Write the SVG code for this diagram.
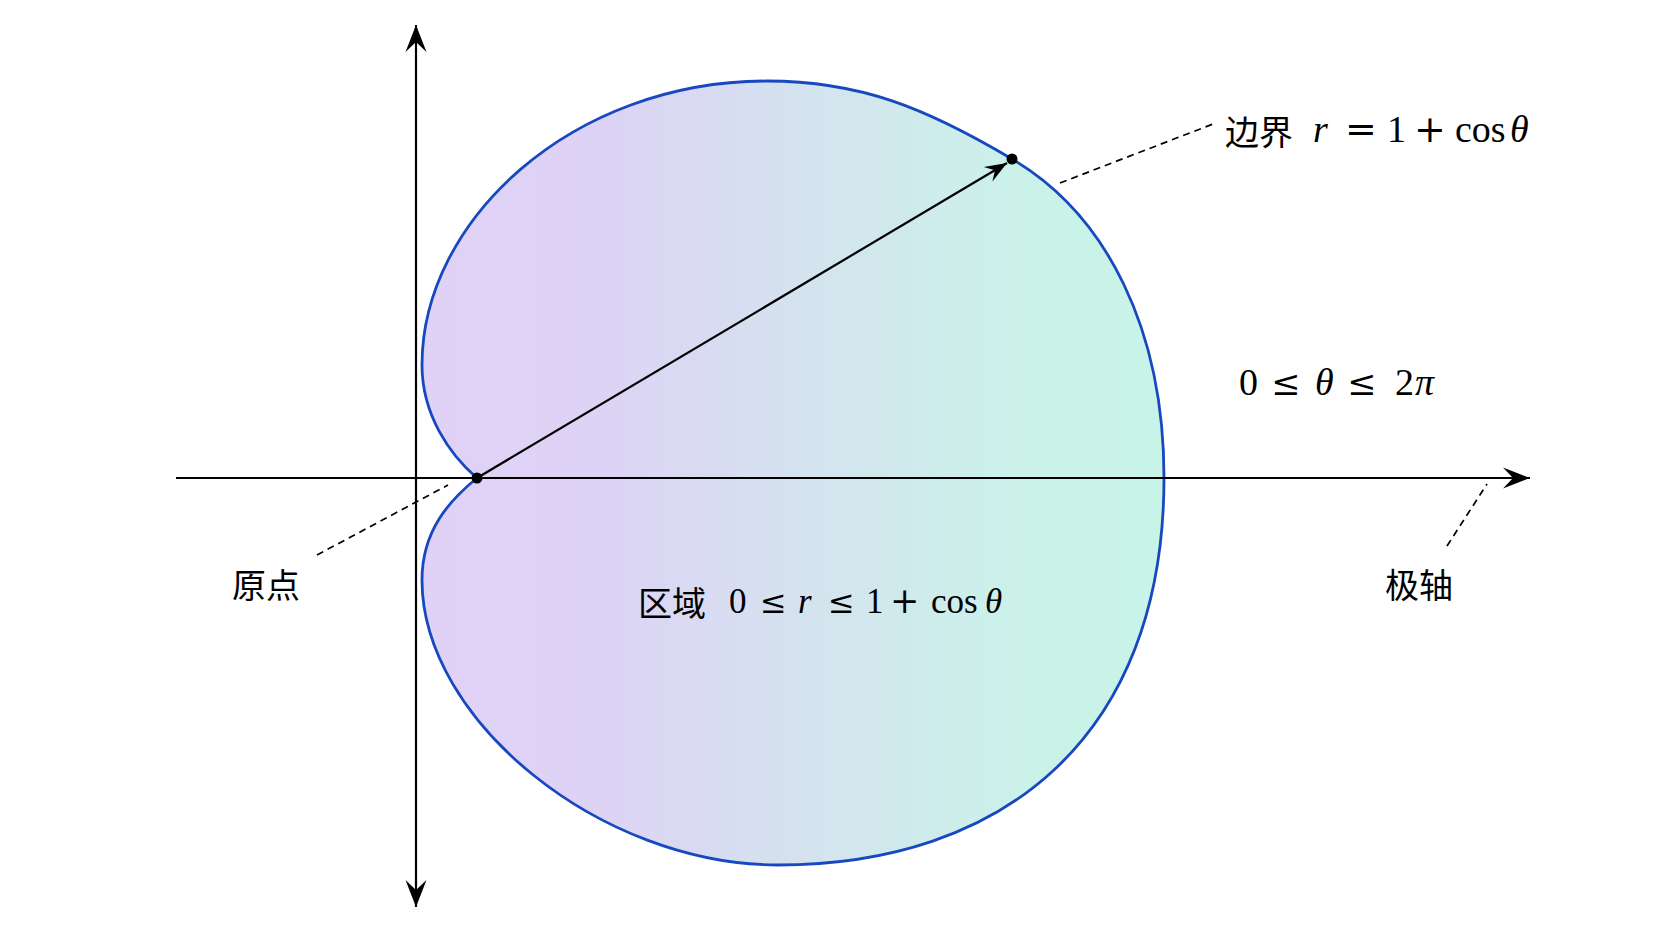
<svg xmlns="http://www.w3.org/2000/svg" width="1672" height="941" viewBox="0 0 1672 941">
  <style>
    .axis { stroke: #000; stroke-width: 2.2; fill: none; }
    .lead { stroke: #000; stroke-width: 1.7; fill: none; stroke-dasharray: 7 5; }
    .cjk { font-family: "Noto Sans CJK SC", "Noto Sans", sans-serif; font-size: 34px; fill: #000; }
    .m { font-family: "Liberation Serif", "DejaVu Serif", serif; font-size: 38px; fill: #000; }
    .op { font-family: "DejaVu Serif", "Liberation Serif", serif; font-size: 38px; }
    .le { font-family: "DejaVu Serif", "Liberation Serif", serif; font-size: 35px; }
    .i { font-style: italic; }
  </style>
  <defs>
    <linearGradient id="fillg" gradientUnits="userSpaceOnUse" x1="422" y1="0" x2="1164" y2="0">
      <stop offset="0" stop-color="#e0d2f7"/>
      <stop offset="0.25" stop-color="#ddd3f5"/>
      <stop offset="0.55" stop-color="#d3e5ee"/>
      <stop offset="0.8" stop-color="#cbf1e9"/>
      <stop offset="1" stop-color="#c8f4e8"/>
    </linearGradient>
    <marker id="ah" viewBox="-28 -12 30 24" refX="0" refY="0" markerWidth="30" markerHeight="24" markerUnits="userSpaceOnUse" orient="auto-start-reverse">
      <path d="M0,0 L-27,-10.5 L-17,0 L-27,10.5 Z" fill="#000"/>
    </marker>
    <marker id="ahs" viewBox="-24 -10 26 20" refX="0" refY="0" markerWidth="26" markerHeight="20" markerUnits="userSpaceOnUse" orient="auto">
      <path d="M0,0 L-22,-8.5 L-14,0 L-22,8.5 Z" fill="#000"/>
    </marker>
  </defs>
  <rect width="1672" height="941" fill="#fff"/>

  <g id="region">
    <path d="M477 478 C450 455 422 415 422 365 C422 220 572 81 767 81 C860 81 926 108 1012 159 C1107 215 1164 330 1164 478 C1164 740 1000 865 778 865 C600 865 422 720 422 580 C422 530 450 500 477 478 Z" fill="url(#fillg)" stroke="#1748c0" stroke-width="2.8"/>
  </g>

  <g id="connectors">
    <line class="axis" x1="176" y1="478" x2="1530" y2="478" marker-end="url(#ah)"/>
    <line class="axis" x1="416" y1="907" x2="416" y2="25" marker-start="url(#ah)" marker-end="url(#ah)"/>
    <line class="axis" x1="477" y1="478" x2="1007" y2="163" marker-end="url(#ahs)"/>
    <line class="lead" x1="1060" y1="183" x2="1213" y2="124"/>
    <line class="lead" x1="317" y1="555" x2="448" y2="485"/>
    <line class="lead" x1="1447" y1="546" x2="1487" y2="484"/>
  </g>

  <g id="origin-point"><circle cx="477" cy="478" r="5.5" fill="#000"/></g>
  <g id="boundary-point"><circle cx="1012" cy="159" r="5.5" fill="#000"/></g>

  <g id="label-boundary">
    <text class="cjk" x="1225" y="145">边界</text>
    <text class="m" y="142"><tspan class="i" x="1313">r</tspan><tspan class="op" x="1345">=</tspan><tspan x="1387">1</tspan><tspan class="op" x="1414">+</tspan><tspan x="1455">cos</tspan><tspan class="i" x="1510">θ</tspan></text>
  </g>

  <g id="label-range">
    <text class="m" y="395"><tspan x="1239">0</tspan><tspan class="le" x="1271">≤</tspan><tspan class="i" x="1315">θ</tspan><tspan class="le" x="1347">≤</tspan><tspan x="1395">2</tspan><tspan class="i" x="1415">π</tspan></text>
  </g>

  <g id="label-region">
    <text class="cjk" x="638" y="616">区域</text>
    <text class="m" y="613" style="font-size:35px"><tspan x="729">0</tspan><tspan class="le" x="760" style="font-size:32px">≤</tspan><tspan class="i" x="798">r</tspan><tspan class="le" x="828" style="font-size:32px">≤</tspan><tspan x="866">1</tspan><tspan class="op" x="890" style="font-size:35px">+</tspan><tspan x="931">cos</tspan><tspan class="i" x="985">θ</tspan></text>
  </g>

  <g id="label-origin"><text class="cjk" x="232" y="598">原点</text></g>
  <g id="label-axis"><text class="cjk" x="1385" y="598">极轴</text></g>
</svg>
